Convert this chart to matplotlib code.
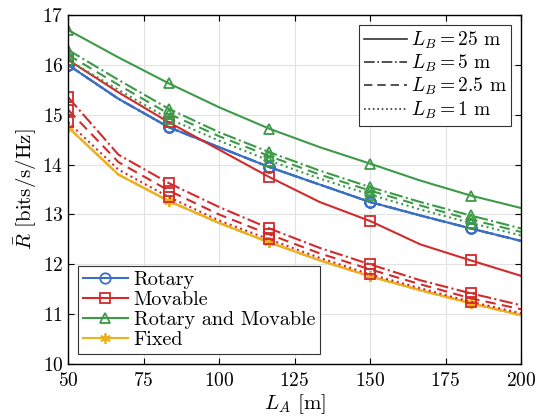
import matplotlib
matplotlib.use("Agg")
import matplotlib.pyplot as plt
from matplotlib.lines import Line2D

plt.rcParams['font.family'] = 'serif'
plt.rcParams['font.serif'] = ['cmr10', 'DejaVu Serif']
plt.rcParams['mathtext.fontset'] = 'cm'
plt.rcParams['axes.formatter.use_mathtext'] = True

# x positions (L_A in m)
la = [50, 66.67, 83.33, 100, 116.67, 133.33, 150, 166.67, 183.33, 200]

# values for L_B = 25, 5, 2.5, 1 m
rotary = {
    '25': [16.0, 15.32, 14.75, 14.35, 13.95, 13.6, 13.25, 12.98, 12.72, 12.47],
    '5': [16.0, 15.32, 14.75, 14.35, 13.95, 13.6, 13.25, 12.98, 12.72, 12.47],
    '2.5': [16.0, 15.32, 14.75, 14.35, 13.95, 13.6, 13.25, 12.98, 12.72, 12.47],
    '1': [16.0, 15.32, 14.75, 14.35, 13.95, 13.6, 13.25, 12.98, 12.72, 12.47],
}
movable = {
    '25': [16.1, 15.45, 14.85, 14.3, 13.75, 13.25, 12.87, 12.4, 12.08, 11.77],
    '5': [15.35, 14.2, 13.63, 13.15, 12.72, 12.33, 12.0, 11.68, 11.42, 11.18],
    '2.5': [15.1, 14.05, 13.48, 13.0, 12.6, 12.22, 11.9, 11.6, 11.32, 11.1],
    '1': [14.85, 13.9, 13.35, 12.88, 12.5, 12.13, 11.8, 11.52, 11.25, 11.02],
}
both = {
    '25': [16.7, 16.15, 15.63, 15.15, 14.72, 14.35, 14.02, 13.68, 13.38, 13.13],
    '5': [16.3, 15.7, 15.12, 14.65, 14.25, 13.88, 13.55, 13.25, 12.98, 12.72],
    '2.5': [16.2, 15.6, 15.02, 14.57, 14.17, 13.8, 13.48, 13.18, 12.9, 12.65],
    '1': [16.1, 15.5, 14.92, 14.48, 14.08, 13.72, 13.4, 13.1, 12.83, 12.58],
}
fixed = [14.75, 13.8, 13.27, 12.83, 12.44, 12.08, 11.76, 11.48, 11.22, 10.98]

lb_keys = ['25', '5', '2.5', '1']
styles = {'25': '-', '5': '-.', '2.5': (0, (5, 3)), '1': ':'}

c_blue = '#3A6FC4'
c_red = '#D22B2B'
c_green = '#3C9A48'
c_yel = '#EDB120'
star = (6, 2, 0)

fig = plt.figure(figsize=(5.45, 4.18), dpi=100)
ax = fig.add_axes([0.125, 0.129, 0.831, 0.835])

def draw(vals, color, marker, ls):
    ax.plot(la, vals, color=color, ls=ls, lw=1.5, marker=marker,
            markevery=2, ms=7.5, mfc='none', mew=1.3)

for k in lb_keys:
    draw(fixed, c_yel, star, styles[k])
for k in lb_keys:
    draw(rotary[k], c_blue, 'o', styles[k])
for k in lb_keys:
    draw(movable[k], c_red, 's', styles[k])
for k in lb_keys:
    draw(both[k], c_green, '^', styles[k])

ax.set_xlim(50, 200)
ax.set_ylim(10, 17)
ax.set_xticks([50, 75, 100, 125, 150, 175, 200])
ax.set_yticks(range(10, 18))
ax.tick_params(labelsize=14, direction='in', length=4, top=True, right=True)
ax.tick_params(axis='x', pad=6)
for s in ax.spines.values():
    s.set_linewidth(1.0)
ax.grid(True, color='#e2e2e2', lw=0.8)
ax.set_axisbelow(True)
ax.set_xlabel(r'$L_A$ [m]', fontsize=15, labelpad=1)
ax.set_ylabel(r'$\bar{R}$ [bits/s/Hz]', fontsize=15, labelpad=2)

h1 = [Line2D([], [], color=c_blue, marker='o', mfc='none', lw=1.5, ms=7.5, mew=1.3),
      Line2D([], [], color=c_red, marker='s', mfc='none', lw=1.5, ms=7.5, mew=1.3),
      Line2D([], [], color=c_green, marker='^', mfc='none', lw=1.5, ms=7.5, mew=1.3),
      Line2D([], [], color=c_yel, marker=star, mfc='none', lw=1.5, ms=7.5, mew=1.3)]
leg1 = ax.legend(h1, ['Rotary', 'Movable', 'Rotary and Movable', 'Fixed'],
                 loc='lower left', fontsize=14.5, fancybox=False, edgecolor='#333333',
                 framealpha=1, handlelength=2.2, handletextpad=0.3,
                 borderaxespad=0.5, labelspacing=0.1, borderpad=0.25)
leg1.get_frame().set_linewidth(0.8)
ax.add_artist(leg1)

h2 = [Line2D([], [], color='#333333', ls=styles[k], lw=1.2) for k in lb_keys]
leg2 = ax.legend(h2, [r'$L_B = %s$ m' % k for k in lb_keys],
                 loc='upper right', fontsize=14, fancybox=False, edgecolor='#333333',
                 framealpha=1, handlelength=2.2, handletextpad=0.2,
                 borderaxespad=0.5, labelspacing=0.1, borderpad=0.25)
leg2.get_frame().set_linewidth(0.8)

fig.savefig('out.png', dpi=100)
